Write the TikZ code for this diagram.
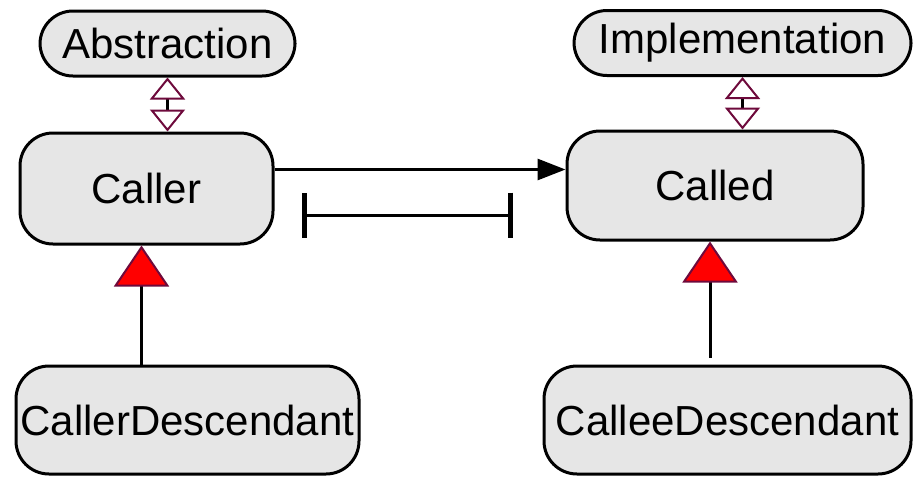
\documentclass[tikz,border=0pt]{standalone}
\usepackage{fontspec}
\setmainfont{Liberation Sans}
\usepackage{tikz}
\usetikzlibrary{arrows.meta,calc}
\definecolor{boxgray}{RGB}{230,230,230}
\definecolor{linkred}{RGB}{110,10,60}
\tikzstyle{classbox} = [draw=black, line width=3pt, fill=boxgray, rounded corners=33pt, inner sep=0pt, font=\fontsize{42}{50}\selectfont]
\tikzstyle{calls}    = [line width=3pt, -{Triangle[length=28pt, width=21pt]}]
\tikzstyle{bridge}   = [line width=3pt, {Triangle[open, fill=white, length=22pt, width=35pt, line width=2pt, color=linkred]}-{Triangle[open, fill=white, length=22pt, width=35pt, line width=2pt, color=linkred]}]
\tikzstyle{inherit}  = [line width=3pt, -{Triangle[length=41pt, width=55pt, line width=2pt, color=linkred, fill=red]}]
\tikzstyle{span}     = [line width=3pt, {Bar[width=45pt, line width=5pt]}-{Bar[width=45pt, line width=5pt]}]

\begin{document}
\begin{tikzpicture}[x=1pt, y=-1pt]
		\useasboundingbox (0,0) rectangle (916,477);

		\node[classbox, minimum width=255pt, minimum height=65pt] (abstraction) at (167.5,43.5) {Abstraction};
		\node[classbox, minimum width=337pt, minimum height=65pt] (implementation) at (742.5,43) {Implementation};
		\node[classbox, minimum width=253pt, minimum height=111pt] (caller) at (146.5,188.5) {Caller};
		\node[classbox, minimum width=296pt, minimum height=109pt] (called) at (715,185.5) {Called};
		\node[classbox, minimum width=343pt, minimum height=108pt] (callerdesc) at (187.5,420) {CallerDescendant};
		\node[classbox, minimum width=367pt, minimum height=108pt] (calleedesc) at (727.5,420) {CalleeDescendant};

		\coordinate (callout) at ([yshift=19pt]caller.east);
		\coordinate (callerbase) at ([xshift=-5pt]caller.south);
		\coordinate (calledbase) at ([xshift=-5pt]called.south);
		\coordinate (spanl) at (302,215);
		\coordinate (spanr) at (513,215);

		\draw[calls] (callout) -- (callout -| called.west);
		\draw[bridge] (abstraction.south) -- (abstraction.south |- caller.north);
		\draw[bridge] (implementation.south) -- (implementation.south |- called.north);
		\draw[inherit] (callerbase |- callerdesc.north) -- (callerbase);
		\draw[inherit, shorten <=7pt] (calledbase |- calleedesc.north) -- (calledbase);
		\draw[span] (spanl) -- (spanr);
	\end{tikzpicture}
\end{document}
